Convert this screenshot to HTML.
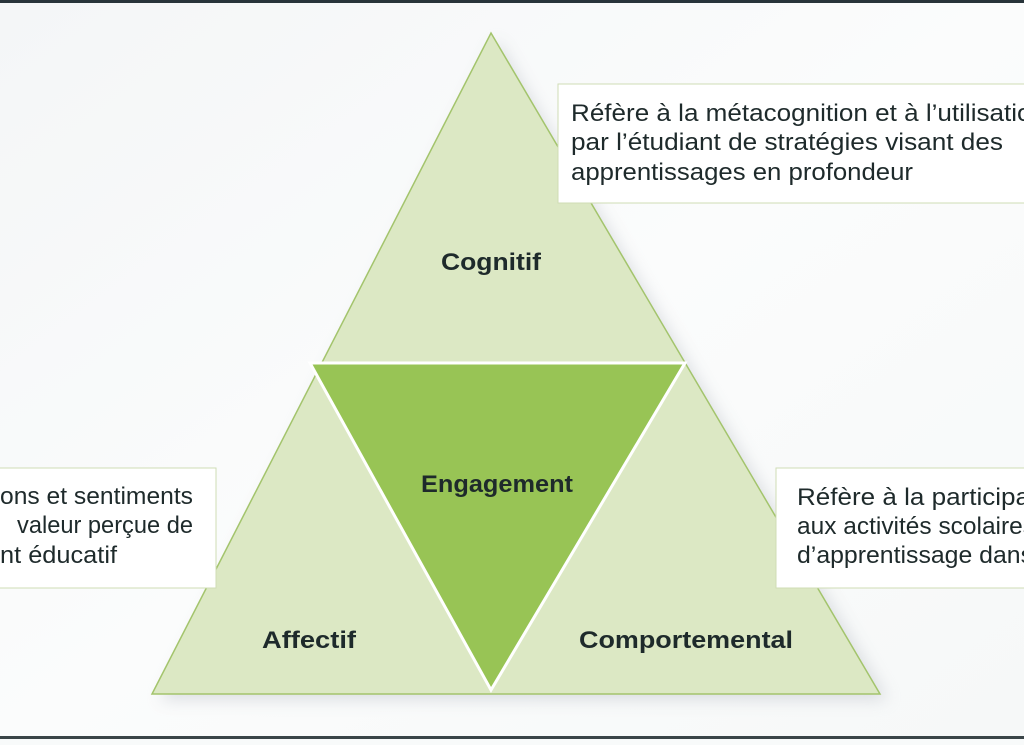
<!DOCTYPE html>
<html><head><meta charset="utf-8"><style>
html,body{margin:0;padding:0;width:1024px;height:745px;overflow:hidden;background:#f7f9f9}
svg{display:block}
text{font-family:"Liberation Sans",sans-serif;fill:#1e2a2b}
.b{font-weight:bold;font-size:24px}
.t{font-size:24px}
</style></head><body>
<svg width="1024" height="745" viewBox="0 0 1024 745">
<defs>
<filter id="sh" x="-20%" y="-20%" width="140%" height="140%"><feGaussianBlur stdDeviation="8"/></filter>
<linearGradient id="bg" x1="0" y1="0" x2="1" y2="1"><stop offset="0" stop-color="#f4f6f7"/><stop offset="0.5" stop-color="#fbfcfc"/><stop offset="1" stop-color="#f6f8f8"/></linearGradient>
</defs>
<rect width="1024" height="745" fill="url(#bg)"/>
<rect x="0" y="0" width="1024" height="3" fill="#28343a"/>
<rect x="0" y="736" width="1024" height="3" fill="#3a4548"/>
<rect x="0" y="739" width="1024" height="6" fill="#f8fafa"/>
<polygon points="497,40 888,700 160,700" fill="#b8bcc4" opacity="0.45" filter="url(#sh)"/>
<polygon points="491,33 880,694 152,694" fill="#dce8c4" stroke="#a3c46c" stroke-width="1.5"/>
<polygon points="310,363 685,363 491,690" fill="#98c455" stroke="#ffffff" stroke-width="3"/>
<text class="b" x="491" y="270" text-anchor="middle" textLength="100" lengthAdjust="spacingAndGlyphs">Cognitif</text>
<text class="b" x="497" y="492" text-anchor="middle" textLength="152" lengthAdjust="spacingAndGlyphs">Engagement</text>
<text class="b" x="309" y="648" text-anchor="middle" textLength="94" lengthAdjust="spacingAndGlyphs">Affectif</text>
<text class="b" x="686" y="648" text-anchor="middle" textLength="214" lengthAdjust="spacingAndGlyphs">Comportemental</text>
<rect x="558" y="84" width="470" height="119" fill="#fff" stroke="#cfdcb5" stroke-width="1"/>
<text class="t" x="571" y="121" textLength="475" lengthAdjust="spacingAndGlyphs">Réfère à la métacognition et à l’utilisation</text>
<text class="t" x="571" y="150" textLength="432" lengthAdjust="spacingAndGlyphs">par l’étudiant de stratégies visant des</text>
<text class="t" x="571" y="180" textLength="342" lengthAdjust="spacingAndGlyphs">apprentissages en profondeur</text>
<rect x="-5" y="468" width="221" height="120" fill="#fff" stroke="#cfdcb5" stroke-width="1"/>
<text class="t" x="0" y="504" textLength="193" lengthAdjust="spacingAndGlyphs">ons et sentiments</text>
<text class="t" x="17" y="533" textLength="176" lengthAdjust="spacingAndGlyphs">valeur perçue de</text>
<text class="t" x="0" y="563" textLength="117" lengthAdjust="spacingAndGlyphs">nt éducatif</text>
<rect x="776" y="468" width="252" height="120" fill="#fff" stroke="#cfdcb5" stroke-width="1"/>
<text class="t" x="797" y="505" textLength="275" lengthAdjust="spacingAndGlyphs">Réfère à la participation</text>
<text class="t" x="797" y="534" textLength="238" lengthAdjust="spacingAndGlyphs">aux activités scolaires</text>
<text class="t" x="797" y="563" textLength="236" lengthAdjust="spacingAndGlyphs">d’apprentissage dans</text>
</svg>
</body></html>
